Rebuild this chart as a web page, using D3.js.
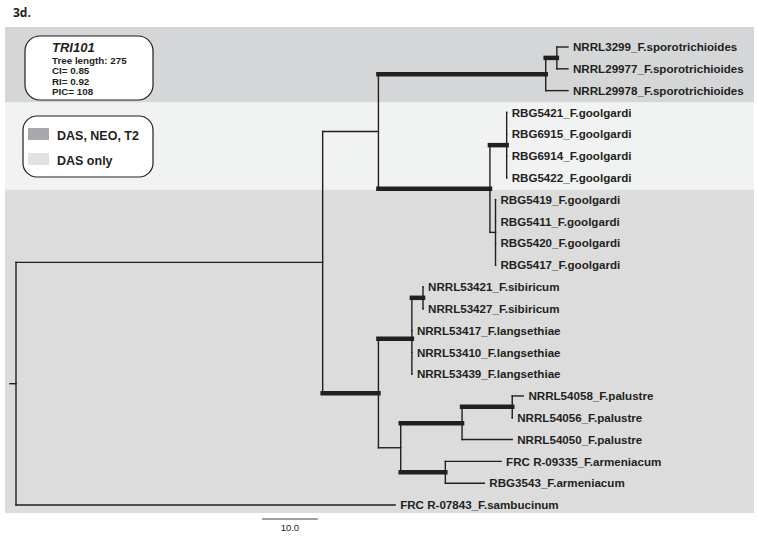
<!DOCTYPE html>
<html>
<head>
<meta charset="utf-8">
<script src="https://cdn.jsdelivr.net/npm/d3@7"></script>
<style>
  body { margin: 0; background: #fff; }
  svg { display: block; font-family: "Liberation Sans", Arial, sans-serif; }
  .branch { stroke: #231f20; fill: none; stroke-linecap: square; }
  .tip-label { font-size: 11.6px; font-weight: bold; fill: #231f20; }
</style>
</head>
<body>
<svg id="tree" width="758" height="536"></svg>
<script>
// ── Tree edges: child, parent, branch length (steps), strong support ──
const edges = [
  { id: "root",  parent: "",     len: 0,  bold: false },
  { id: "D",     parent: "root", len: 55, bold: false },
  { id: "C",     parent: "D",    len: 10, bold: false },
  { id: "B",     parent: "C",    len: 30, bold: true },
  { id: "A",     parent: "B",    len: 2,  bold: true },
  { id: "NRRL3299_F.sporotrichioides",  parent: "A", len: 2, bold: false },
  { id: "NRRL29977_F.sporotrichioides", parent: "A", len: 2, bold: false },
  { id: "NRRL29978_F.sporotrichioides", parent: "B", len: 4, bold: false },
  { id: "G",     parent: "C",    len: 20, bold: true },
  { id: "U",     parent: "G",    len: 3,  bold: true },
  { id: "RBG5421_F.goolgardi", parent: "U", len: 0, bold: false },
  { id: "RBG6915_F.goolgardi", parent: "U", len: 0, bold: false },
  { id: "RBG6914_F.goolgardi", parent: "U", len: 0, bold: false },
  { id: "RBG5422_F.goolgardi", parent: "U", len: 0, bold: false },
  { id: "L",     parent: "G",    len: 1,  bold: false },
  { id: "RBG5419_F.goolgardi", parent: "L", len: 0, bold: false },
  { id: "RBG5411_F.goolgardi", parent: "L", len: 0, bold: false },
  { id: "RBG5420_F.goolgardi", parent: "L", len: 0, bold: false },
  { id: "RBG5417_F.goolgardi", parent: "L", len: 0, bold: false },
  { id: "E",     parent: "D",    len: 10, bold: true },
  { id: "F",     parent: "E",    len: 6,  bold: true },
  { id: "S",     parent: "F",    len: 2,  bold: true },
  { id: "NRRL53421_F.sibiricum",    parent: "S", len: 0, bold: false },
  { id: "NRRL53427_F.sibiricum",    parent: "S", len: 0, bold: false },
  { id: "NRRL53417_F.langsethiae",  parent: "F", len: 0, bold: false },
  { id: "NRRL53410_F.langsethiae",  parent: "F", len: 0, bold: false },
  { id: "NRRL53439_F.langsethiae",  parent: "F", len: 0, bold: false },
  { id: "H",     parent: "E",    len: 4,  bold: false },
  { id: "P",     parent: "H",    len: 11, bold: true },
  { id: "P2",    parent: "P",    len: 9,  bold: true },
  { id: "NRRL54058_F.palustre",     parent: "P2", len: 2, bold: false },
  { id: "NRRL54056_F.palustre",     parent: "P2", len: 0, bold: false },
  { id: "NRRL54050_F.palustre",     parent: "P",  len: 9, bold: false },
  { id: "Ar",    parent: "H",    len: 8,  bold: true },
  { id: "FRC R-09335_F.armeniacum", parent: "Ar", len: 10, bold: false },
  { id: "RBG3543_F.armeniacum",     parent: "Ar", len: 7,  bold: false },
  { id: "FRC R-07843_F.sambucinum", parent: "root", len: 68, bold: false }
];

// ── Toxin bands: first and last tip of each shaded block ──
const bands = [
  { first: "NRRL3299_F.sporotrichioides", last: "NRRL29978_F.sporotrichioides" },
  { first: "RBG5421_F.goolgardi",         last: "RBG5422_F.goolgardi" },
  { first: "RBG5419_F.goolgardi",         last: "FRC R-07843_F.sambucinum" }
];
const bandFills = ["#d5d6d7", "#f1f2f2", "#dcdcdc"];

const legendItems = ["DAS, NEO, T2", "DAS only"];
const legendFills = ["#a7a9ac", "#e1e2e3"];

const statsTitle = "TRI101";
const statsLines = ["Tree length: 275", "CI= 0.85", "RI= 0.92", "PIC= 108"];

const scaleBarLength = 10;

// ── Build hierarchy ──
const root = d3.stratify()
  .id(d => d.id)
  .parentId(d => d.parent || null)(edges);

root.eachBefore(d => { d.dist = d.parent ? d.parent.dist + d.data.len : 0; });
const tips = root.leaves();
const maxDist = d3.max(tips, d => d.dist);

const xScale = d3.scaleLinear().domain([0, maxDist]).range([16, 568]);
const yScale = d3.scalePoint().domain(tips.map(d => d.id)).range([47, 505]);

root.eachAfter(d => {
  d.py = d.children ? d3.mean(d.children, c => c.py) : yScale(d.id);
  d.px = xScale(d.dist);
});

const svg = d3.select("#tree");

// ── Background bands ──
const step = yScale.step();
const bandTop = (d, i) => i === 0 ? yScale(d.first) - 20 : yScale(d.first) - step / 2 + 1;
const bandBottom = (d, i) => i === bands.length - 1 ? yScale(d.last) + 8 : yScale(d.last) + step / 2 + 1;
svg.append("g").selectAll("rect")
  .data(bands)
  .join("rect")
  .attr("x", 5)
  .attr("width", 749)
  .attr("y", bandTop)
  .attr("height", (d, i) => bandBottom(d, i) - bandTop(d, i))
  .attr("fill", (d, i) => bandFills[i]);

// ── Panel label ──
svg.append("text")
  .attr("x", 13).attr("y", 17)
  .attr("font-family", "'Open Sans', sans-serif")
  .attr("font-weight", "bold")
  .attr("font-size", 12)
  .attr("fill", "#231f20")
  .text("3d.");

// ── Branches ──
const g = svg.append("g");
const nodes = root.descendants();

// horizontal
g.selectAll(".h-branch")
  .data(nodes.filter(d => d.parent))
  .join("line")
  .attr("class", "branch h-branch")
  .attr("x1", d => d.parent.px)
  .attr("x2", d => d.px)
  .attr("y1", d => d.py)
  .attr("y2", d => d.py)
  .attr("stroke-linecap", d => d.data.bold ? "butt" : "square")
  .attr("stroke-width", d => d.data.bold ? 4.5 : 1.4);

// vertical
g.selectAll(".v-branch")
  .data(nodes.filter(d => d.children))
  .join("line")
  .attr("class", "branch v-branch")
  .attr("x1", d => d.px)
  .attr("x2", d => d.px)
  .attr("y1", d => d.children[0].py)
  .attr("y2", d => d.children[d.children.length - 1].py)
  .attr("stroke-width", 1.4);

// root stub
g.append("line")
  .attr("class", "branch")
  .attr("x1", root.px - 6).attr("x2", root.px)
  .attr("y1", root.py).attr("y2", root.py)
  .attr("stroke-width", 1.4);

// ── Tip labels ──
g.selectAll(".tip-label")
  .data(tips)
  .join("text")
  .attr("class", "tip-label")
  .attr("x", d => d.px + 5)
  .attr("y", d => d.py)
  .attr("dy", "0.36em")
  .text(d => d.id);

// ── Scale bar ──
const sbX = 262, sbY = 519;
const sbLen = xScale(scaleBarLength) - xScale(0);
svg.append("line")
  .attr("x1", sbX).attr("x2", sbX + sbLen)
  .attr("y1", sbY).attr("y2", sbY)
  .attr("stroke", "#808080").attr("stroke-width", 1.3);
svg.append("text")
  .attr("x", sbX + sbLen / 2).attr("y", sbY + 12)
  .attr("text-anchor", "middle")
  .attr("font-size", 9.5)
  .attr("fill", "#231f20")
  .text(scaleBarLength.toFixed(1));

// ── Stats box ──
svg.append("rect")
  .attr("x", 25).attr("y", 36).attr("width", 128).attr("height", 64)
  .attr("rx", 15)
  .attr("fill", "#fff").attr("stroke", "#231f20").attr("stroke-width", 1.2);
svg.append("text")
  .attr("x", 52).attr("y", 51.5)
  .attr("font-size", 13).attr("font-weight", "bold").attr("font-style", "italic")
  .attr("fill", "#231f20")
  .text(statsTitle);
svg.selectAll(".stat-line")
  .data(statsLines)
  .join("text")
  .attr("class", "stat-line")
  .attr("x", 52)
  .attr("y", (d, i) => 64 + i * 10.4)
  .attr("font-size", 9.8).attr("font-weight", "bold")
  .attr("fill", "#231f20")
  .text(d => d);

// ── Legend box ──
svg.append("rect")
  .attr("x", 23).attr("y", 116).attr("width", 130).attr("height", 61)
  .attr("rx", 14)
  .attr("fill", "#fff").attr("stroke", "#231f20").attr("stroke-width", 1.2);
const legend = svg.selectAll(".legend-item")
  .data(legendItems)
  .join("g")
  .attr("class", "legend-item")
  .attr("transform", (d, i) => `translate(28,${128 + i * 25})`);
legend.append("rect")
  .attr("width", 21).attr("height", 12)
  .attr("fill", (d, i) => legendFills[i]);
legend.append("text")
  .attr("x", 29).attr("y", 7)
  .attr("dy", "0.36em")
  .attr("font-size", 12.5).attr("font-weight", "bold")
  .attr("fill", "#231f20")
  .text(d => d);
</script>
</body>
</html>
